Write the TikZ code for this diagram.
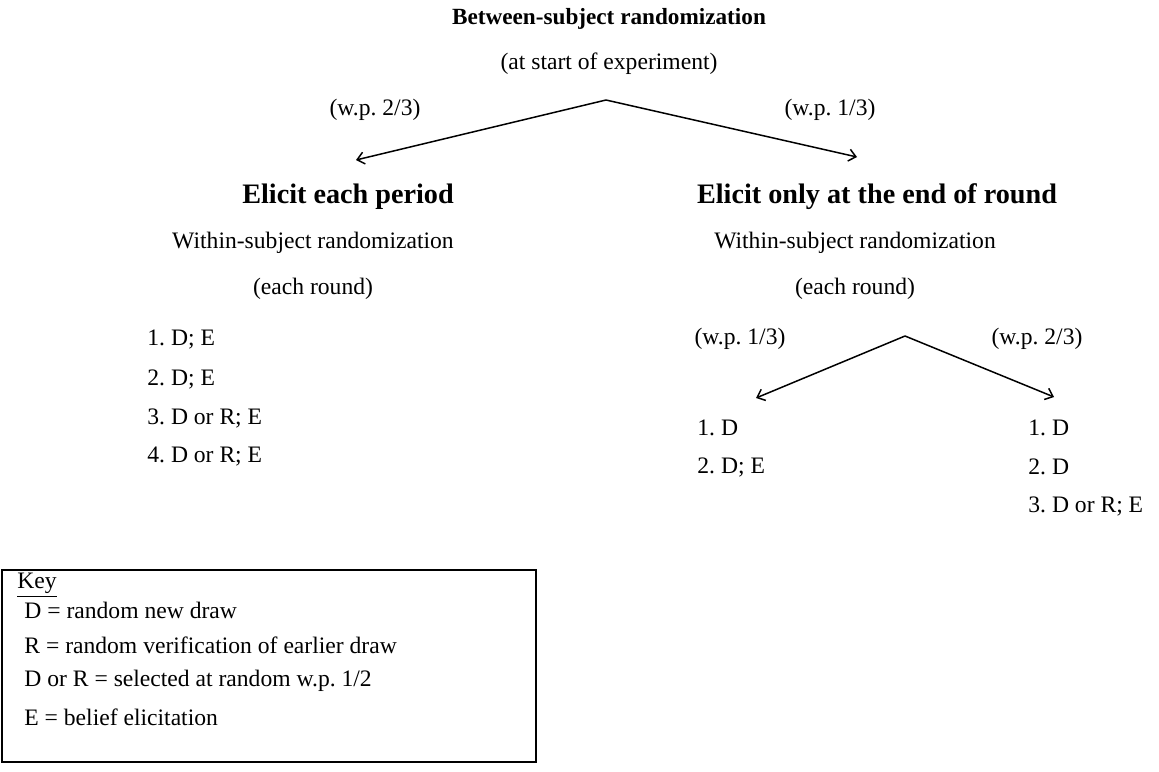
\documentclass[tikz,border=0pt]{standalone}
\usepackage{fontspec}
\setmainfont{Liberation Serif}
\usetikzlibrary{positioning}
\usetikzlibrary{arrows.meta}

\begin{document}
\frenchspacing
\begin{tikzpicture}
		[x=0.5pt, y=-0.5pt,
		 txt/.style={inner sep=0pt, font=\fontsize{11.8}{14}\selectfont},
		 head/.style={inner sep=0pt, font=\fontsize{11.6}{14}\selectfont\bfseries},
		 subhead/.style={inner sep=0pt, font=\fontsize{14.1}{17}\selectfont\bfseries},
		 item/.style={txt, anchor=west},
		 branch/.style={-{Straight Barb[length=3.5pt, width=6pt]}, line width=0.75pt}]
		\useasboundingbox (0,0) rectangle (1159,771);

		% top level
		\node[head] (between) at (609,19) {Between-subject randomization};
		\node[txt] (start) at (609,64) {(at start of experiment)};
		\coordinate (topsplit) at (606,100);
		\coordinate (leftend) at (356,160);
		\coordinate (rightend) at (857,157);
		\draw[branch] (topsplit) -- (leftend);
		\draw[branch] (topsplit) -- (rightend);
		\node[txt] (wpa) at (375,110) {(w.p. 2/3)};
		\node[txt] (wpb) at (830,110) {(w.p. 1/3)};

		% left branch
		\node[subhead] (each) at (348,197) {Elicit each period};
		\node[txt] (withinl) at (313,243) {Within-subject randomization};
		\node[txt] (roundl) at (313,289) {(each round)};
		\node[item] (la) at (147,340) {1. D; E};
		\node[item] (lb) at (147,379) {2. D; E};
		\node[item] (lc) at (147,418) {3. D or R; E};
		\node[item] (ld) at (147,457) {4. D or R; E};

		% right branch
		\node[subhead] (only) at (877,197) {Elicit only at the end of round};
		\node[txt] (withinr) at (855,243) {Within-subject randomization};
		\node[txt] (roundr) at (855,289) {(each round)};
		\coordinate (subsplit) at (905,336);
		\coordinate (subleft) at (756,398);
		\coordinate (subright) at (1054,397);
		\draw[branch] (subsplit) -- (subleft);
		\draw[branch] (subsplit) -- (subright);
		\node[txt] (wpc) at (740,339) {(w.p. 1/3)};
		\node[txt] (wpd) at (1037,339) {(w.p. 2/3)};
		\node[item] (ra) at (697,428) {1. D};
		\node[item] (rb) at (697,467) {2. D; E};
		\node[item] (sa) at (1028,428) {1. D};
		\node[item] (sb) at (1028,467) {2. D};
		\node[item] (sc) at (1028,506) {3. D or R; E};

		% key
		\node[draw, line width=0.9pt, minimum width=267pt, minimum height=96pt] (key) at (269,666) {};
		\node[item] (keyhead) at (17,585) {\underline{Key}};
		\node[item] (kd) at (24,610) {D = random new draw};
		\node[item] (kr) at (24,645) {R = random verification of earlier draw};
		\node[item] (kdr) at (24,681) {D or R = selected at random w.p. 1/2};
		\node[item] (ke) at (24,717) {E = belief elicitation};
	\end{tikzpicture}
\end{document}
